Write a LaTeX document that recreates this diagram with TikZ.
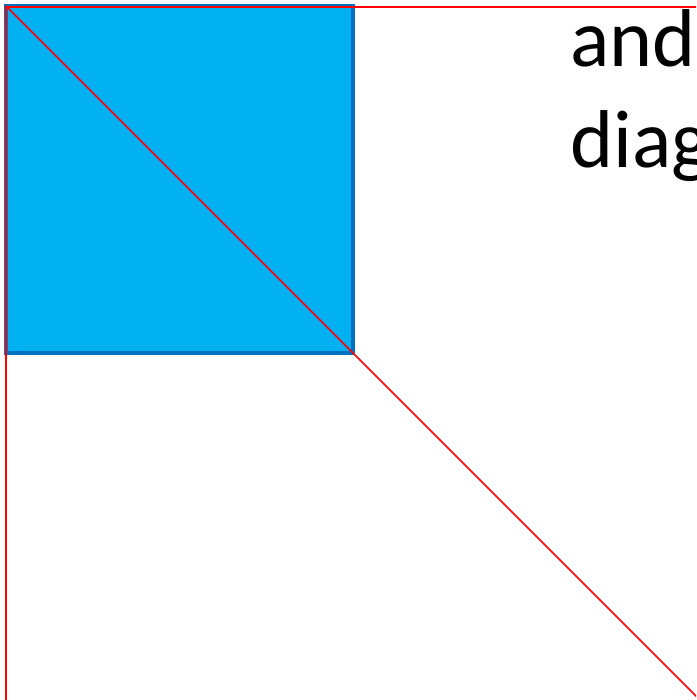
\documentclass[tikz,border=0pt]{standalone}
\usepackage{fontspec}
\setmainfont{Carlito}
\definecolor{fillblue}{HTML}{00B0F0}
\definecolor{edgeblue}{HTML}{0070C0}
\definecolor{linered}{HTML}{FF0000}
\begin{document}
\begin{tikzpicture}[x=1pt,y=-1pt,
  sq/.style={fill=fillblue,draw=edgeblue,line width=4.5pt},
  redline/.style={draw=linered,line width=1.6pt},
  bigtext/.style={font=\fontsize{82}{100}\selectfont,inner sep=0pt,anchor=base west}]
\path[use as bounding box] (0,0) rectangle (696,700);
\clip (0,0) rectangle (696,700);
\fill[white] (0,0) rectangle (696,700);
\coordinate (tl) at (6,6);
\coordinate (tr) at (700,7);
\coordinate (bl) at (6,700);
\coordinate (br) at (702,702);
\coordinate (sqbr) at (353,353);
\draw[sq] (tl) rectangle (sqbr);
\draw[redline] (6,7) -- (tr);
\draw[redline] (tl) -- (bl);
\draw[redline] (tl) -- (br);
\node[bigtext] (t1) at (570,67) {and};
\node[bigtext] (t2) at (570,168) {diag};
\end{tikzpicture}
\end{document}
